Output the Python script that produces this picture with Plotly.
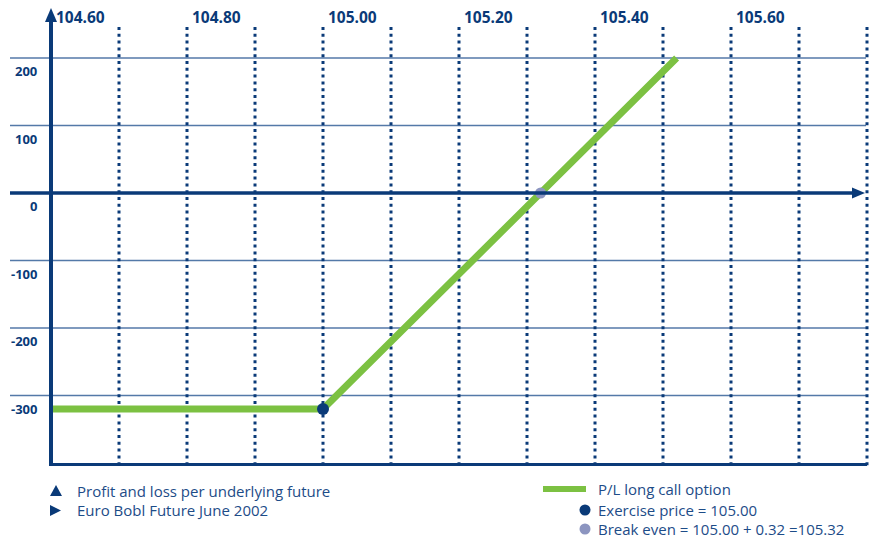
import plotly.graph_objects as go

# ---- data ----
x_tick_values = [104.60, 104.80, 105.00, 105.20, 105.40, 105.60]
x_tick_labels = ["104.60", "104.80", "105.00", "105.20", "105.40", "105.60"]
dotted_grid = [104.70, 104.80, 104.90, 105.00, 105.10, 105.20, 105.30,
               105.40, 105.50, 105.60, 105.70, 105.80]
y_tick_values = [200, 100, 0, -100, -200, -300]
y_tick_labels = ["200", "100", "0", "-100", "-200", "-300"]
price = [104.60, 105.00, 105.52]
profit_loss = [-320, -320, 200]
exercise_price = 105.00
premium = 0.32
break_even = 105.32

# ---- styles ----
W, H = 873, 541
DARK = "#0a3a78"
GRID = "#5479a8"
GREEN = "#7cc142"
GREYDOT = "#8c95c0"
TXT = "#1d4c88"
FONT = "Open Sans"

# pixel -> data helpers (axes fill the whole figure)
X0PX, PXU = 51, 680.0
Y0PX, PYU = 193, 0.675
def xd(px): return 104.60 + (px - X0PX) / PXU
def yd(py): return (Y0PX - py) / PYU

fig = go.Figure()

shapes = []
# horizontal grid lines
for v in y_tick_values:
    if v == 0:
        continue
    shapes.append(dict(type="line", xref="x", yref="y", x0=xd(10), x1=xd(866), y0=v, y1=v,
                       line=dict(color=GRID, width=1.5), layer="below"))
# dotted verticals
for v in dotted_grid:
    shapes.append(dict(type="line", xref="x", yref="y", x0=v, x1=v, y0=yd(27), y1=yd(468),
                       line=dict(color=DARK, width=3, dash="3px,3.8px"), layer="below"))
# zero line with arrow
shapes.append(dict(type="line", xref="x", yref="y", x0=xd(10), x1=xd(854), y0=0, y1=0,
                   line=dict(color=DARK, width=3.5)))
shapes.append(dict(type="path", xref="x", yref="y",
                   path=f"M {xd(852)},{yd(187.5)} L {xd(865)},{yd(193)} L {xd(852)},{yd(198.5)} Z",
                   fillcolor=DARK, line=dict(color=DARK, width=0)))
# y axis with arrow
shapes.append(dict(type="line", xref="x", yref="y", x0=104.60, x1=104.60, y0=yd(466), y1=yd(20),
                   line=dict(color=DARK, width=4)))
shapes.append(dict(type="path", xref="x", yref="y",
                   path=f"M {xd(45)},{yd(22)} L {xd(51)},{yd(8)} L {xd(57)},{yd(22)} Z",
                   fillcolor=DARK, line=dict(color=DARK, width=0)))
# bottom axis line
shapes.append(dict(type="line", xref="x", yref="y", x0=xd(49), x1=xd(867), y0=yd(464.5), y1=yd(464.5),
                   line=dict(color=DARK, width=3)))

# legend shapes (paper coords, pixel based)
def px(p): return p / W
def py(p): return 1 - p / H
shapes.append(dict(type="line", xref="paper", yref="paper", x0=px(543), x1=px(586), y0=py(489), y1=py(489),
                   line=dict(color=GREEN, width=6)))
for cy, col in [(510, DARK), (529, GREYDOT)]:
    r = 5.5
    shapes.append(dict(type="circle", xref="paper", yref="paper",
                       x0=px(585 - r), x1=px(585 + r), y0=py(cy + r), y1=py(cy - r),
                       fillcolor=col, line=dict(color=col, width=0)))
# legend triangles
shapes.append(dict(type="path", xref="paper", yref="paper",
                   path=f"M {px(50)},{py(496)} L {px(56)},{py(485)} L {px(62)},{py(496)} Z",
                   fillcolor=DARK, line=dict(width=0)))
shapes.append(dict(type="path", xref="paper", yref="paper",
                   path=f"M {px(50)},{py(505)} L {px(61)},{py(510.5)} L {px(50)},{py(516)} Z",
                   fillcolor=DARK, line=dict(width=0)))

# P/L line
fig.add_trace(go.Scatter(x=price, y=profit_loss, mode="lines",
                         line=dict(color=GREEN, width=7), hoverinfo="skip", showlegend=False))
# exercise and break-even points
fig.add_trace(go.Scatter(x=[exercise_price], y=[profit_loss[1]], mode="markers",
                         marker=dict(color=DARK, size=12), showlegend=False))
fig.add_trace(go.Scatter(x=[break_even], y=[0], mode="markers",
                         marker=dict(color=GREYDOT, size=11), showlegend=False))

annotations = []
for v, t in zip(x_tick_values, x_tick_labels):
    annotations.append(dict(x=v, y=yd(17), xref="x", yref="y", text=t, showarrow=False,
                            xanchor="left", yanchor="middle", xshift=3,
                            font=dict(family=FONT, size=15.5, color=DARK, weight="bold")))
for v, t in zip(y_tick_values, y_tick_labels):
    annotations.append(dict(x=xd(39), y=v, xref="x", yref="y", text=t, showarrow=False,
                            xanchor="right", yanchor="middle", yshift=-13,
                            font=dict(family=FONT, size=13, color=DARK, weight="bold")))

legend_text = [
    (75, 491, "Profit and loss per underlying future"),
    (75, 510, "Euro Bobl Future June 2002"),
    (596, 489, "P/L long call option"),
    (596, 510, "Exercise price = 105.00"),
    (596, 529, "Break even = 105.00 + 0.32 =105.32"),
]
for x, y, t in legend_text:
    annotations.append(dict(x=px(x), y=py(y), xref="paper", yref="paper", text=t, showarrow=False,
                            xanchor="left", yanchor="middle", font=dict(family=FONT, size=15, color=TXT)))

fig.update_layout(
    width=W, height=H, margin=dict(l=0, r=0, t=0, b=0),
    paper_bgcolor="white", plot_bgcolor="white",
    xaxis=dict(range=[xd(0), xd(W)], visible=False, fixedrange=True),
    yaxis=dict(range=[yd(H), yd(0)], visible=False, fixedrange=True),
    shapes=shapes, annotations=annotations, showlegend=False,
)
fig.write_html("out.html", config={"displayModeBar": False},
               post_script="document.body.style.margin='0';document.body.style.overflow='hidden';")
